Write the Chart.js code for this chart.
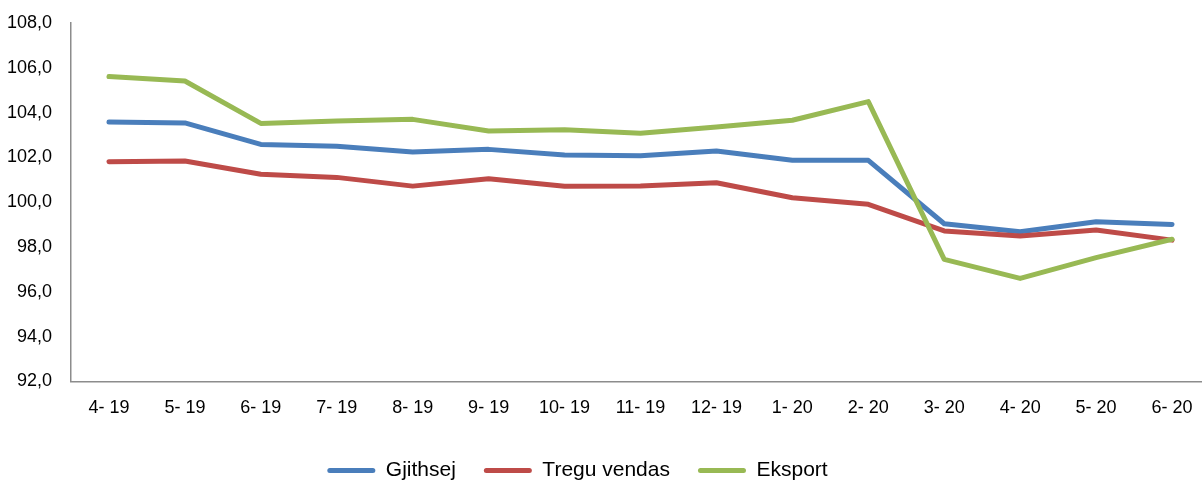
<!DOCTYPE html>
<html><head><meta charset="utf-8">
<script src="https://cdn.jsdelivr.net/npm/chart.js@4"></script>
<style>html,body{margin:0;padding:0;background:#fff;overflow:hidden;width:1202px;height:482px}#wrap{position:relative;width:1210px;height:482px}</style>
</head><body><div id="wrap"><canvas id="c"></canvas></div>
<script>
const categories = ['4- 19','5- 19','6- 19','7- 19','8- 19','9- 19','10- 19','11- 19','12- 19','1- 20','2- 20','3- 20','4- 20','5- 20','6- 20'];
const gjithsej = [103.58, 103.54, 102.58, 102.50, 102.24, 102.36, 102.11, 102.08, 102.29, 101.87, 101.87, 99.04, 98.68, 99.13, 99.01];
const treguVendas = [101.81, 101.84, 101.25, 101.11, 100.72, 101.05, 100.71, 100.72, 100.87, 100.20, 99.91, 98.72, 98.49, 98.76, 98.31];
const eksport = [105.61, 105.41, 103.52, 103.63, 103.70, 103.18, 103.24, 103.08, 103.36, 103.66, 104.49, 97.45, 96.60, 97.53, 98.35];
const yTicks = [92, 94, 96, 98, 100, 102, 104, 106, 108];
const seriesNames = ['Gjithsej', 'Tregu vendas', 'Eksport'];
const seriesColors = ['#4A7EBB', '#BE4B48', '#98B954'];
const FONT = "'Liberation Sans',Arial,sans-serif";

const legendPlace = {
  id: 'legendPlace',
  afterLayout(chart) {
    const lg = chart.legend; if (!lg) return;
    const h = lg.bottom - lg.top;
    lg.left = 0; lg.right = 1155; lg.width = 1155;
    lg.top = 432; lg.bottom = 432 + h;
  }
};

const seriesData = [gjithsej, treguVendas, eksport];
const datasets = seriesNames.map((name, i) => ({
  label: name,
  data: seriesData[i],
  borderColor: seriesColors[i],
  backgroundColor: seriesColors[i],
  borderWidth: 5,
  pointRadius: 0,
  pointHoverRadius: 0,
  tension: 0,
  borderJoinStyle: 'round',
  borderCapStyle: 'round',
  order: 3 - i
}));

new Chart(document.getElementById('c'), {
  type: 'line',
  data: { labels: categories, datasets },
  plugins: [legendPlace],
  options: {
    responsive: true,
    maintainAspectRatio: false,
    animation: false,
    layout: { padding: { top: 23, left: 0, right: 0, bottom: 0 } },
    plugins: {
      tooltip: { enabled: false },
      legend: {
        position: 'bottom',
        labels: {
          boxWidth: 48,
          boxHeight: 5,
          padding: 28,
          color: '#000',
          useBorderRadius: true,
          borderRadius: 2.5,
          font: { size: 21, family: FONT },
          sort: (a, b) => a.datasetIndex - b.datasetIndex,
          generateLabels(chart) {
            const items = Chart.defaults.plugins.legend.labels.generateLabels(chart);
            items.forEach(it => { it.lineWidth = 0; });
            return items;
          }
        }
      }
    },
    scales: {
      x: {
        offset: true,
        grid: { display: false, drawTicks: false, offset: true },
        border: { display: true, color: '#8c8c8c', width: 1.5 },
        ticks: { color: '#000', padding: 16, maxRotation: 0, autoSkip: false, font: { size: 18, family: FONT } },
        afterFit(scale) { scale.height = 41.5; scale.paddingLeft = 0; scale.paddingRight = 0; }
      },
      y: {
        min: 92, max: 108,
        grid: { display: false, drawTicks: false },
        border: { display: true, color: '#8c8c8c', width: 1.5 },
        afterBuildTicks(scale) { scale.ticks = yTicks.map(v => ({ value: v })); },
        ticks: {
          color: '#000', padding: 19,
          font: { size: 18, family: FONT },
          callback: v => v.toFixed(1).replace('.', ',')
        },
        afterFit(scale) { scale.width = 71; scale.paddingTop = 0; scale.paddingBottom = 0; }
      }
    }
  }
});
</script>
</body></html>
